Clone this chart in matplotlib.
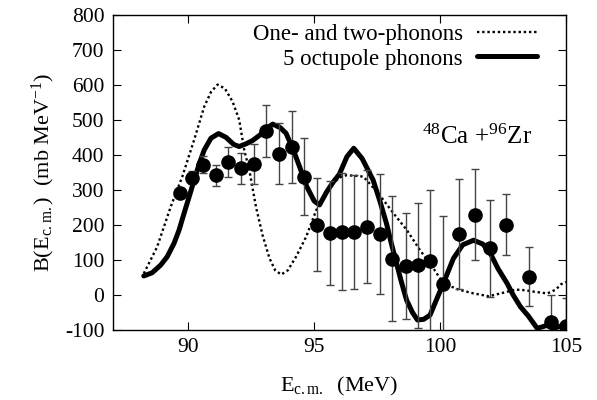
import numpy as np
import matplotlib
matplotlib.use('Agg')
import matplotlib.pyplot as plt

# ─── Data ────────────────────────────────────────────────────────────────────
E_exp = [89.66, 90.13, 90.59, 91.09, 91.58, 92.09, 92.59, 93.09, 93.61, 94.11,
         94.59, 95.11, 95.61, 96.10, 96.60, 97.10, 97.60, 98.10, 98.63, 99.11,
         99.60, 100.13, 100.75, 101.37, 102.00, 102.63, 103.52, 104.39, 105.00]
B_exp = [292, 335, 372, 342, 380, 362, 374, 469, 403, 422,
         338, 200, 176, 180, 180, 195, 174, 103, 82, 84,
         96, 30, 174, 229, 133, 201, 52, -78, -90]
B_err = [10, 18, 25, 30, 42, 44, 58, 75, 87, 103,
         110, 133, 149, 167, 163, 161, 172, 179, 151, 179,
         205, 196, 156, 130, 138, 87, 84, 78, 80]

# 5 octupole phonons (thick solid)
E_oct = [88.23, 88.56, 88.9, 89.16, 89.43, 89.63, 89.83, 90.03, 90.23, 90.43,
         90.63, 90.9, 91.2, 91.5, 91.8, 92.02, 92.3, 92.55, 92.9, 93.15,
         93.35, 93.65, 93.88, 94.15, 94.42, 94.7, 95.0, 95.21, 95.5, 95.75,
         96.0, 96.3, 96.57, 96.9, 97.1, 97.34, 97.6, 97.87, 98.07, 98.27,
         98.47, 98.67, 98.9, 99.1, 99.35, 99.6, 99.85, 100.13, 100.53, 100.9,
         101.33, 101.7, 102.0, 102.3, 102.66, 102.9, 103.19, 103.5, 103.86,
         104.26, 104.5, 104.9, 105.1]
B_oct = [54, 63, 85, 109, 147, 185, 233, 280, 328, 374,
         414, 448, 461, 450, 430, 424, 432, 441, 460, 478,
         488, 478, 462, 418, 366, 310, 268, 257, 295, 322,
         345, 395, 419, 390, 362, 328, 270, 204, 145, 90,
         35, -15, -50, -72, -70, -58, -15, 33, 104, 143,
         156, 145, 118, 75, 33, 0, -34, -60, -96,
         -87, -96, -87, -100]

# One- and two-phonons (dotted)
E_one = [88.23, 88.76, 89.3, 89.76, 90.23, 90.63, 90.9, 91.16, 91.45, 91.76,
         92.02, 92.22, 92.42, 92.69, 92.95, 93.22, 93.45, 93.69, 93.95, 94.28,
         94.68, 95.08, 95.61, 96.0, 96.28, 96.68, 96.94, 97.08, 97.6, 98.15,
         98.68, 99.2, 99.73, 100.13, 100.73, 101.33, 101.93, 102.4, 103.0, 103.4,
         103.73, 104.26, 104.6, 104.8, 105.0]
B_one = [61, 137, 252, 338, 443, 538, 580, 601, 590, 552,
         500, 414, 357, 250, 170, 105, 70, 58, 70, 109,
         166, 242, 309, 335, 342, 340, 338, 328, 285, 233,
         185, 128, 76, 33, 15, 4, -4, 4, 15, 13,
         9, 4, 15, 30, 37]

plt.rcParams['font.family'] = ['Liberation Serif', 'DejaVu Serif']
plt.rcParams['mathtext.fontset'] = 'custom'
plt.rcParams['mathtext.rm'] = 'Liberation Serif'
plt.rcParams['mathtext.it'] = 'Liberation Serif:italic'
plt.rcParams['axes.unicode_minus'] = False
plt.rcParams['font.size'] = 15.5

fig = plt.figure(figsize=(5.97, 4.0), dpi=100)
ax = fig.add_axes([0.189, 0.1755, 0.759, 0.787])

ax.plot(E_one, B_one, color='black', linestyle=(0, (1, 1.2)), linewidth=1.7,
        label='One- and two-phonons')
ax.plot(E_oct, B_oct, color='black', linestyle='-', linewidth=3.6,
        solid_capstyle='round', solid_joinstyle='round', label='5 octupole phonons')
ax.errorbar(E_exp, B_exp, yerr=B_err, fmt='o', color='black', markersize=9.5,
            ecolor='#444444', elinewidth=1.0, capsize=3, capthick=1.0)

ax.text(101.45, 452, r'$^{48}$Ca +$^{96}$Zr', ha='center', va='center', fontsize=18)

ax.set_xlim(87, 105)
ax.set_ylim(-100, 800)
ax.set_xticks([90, 95, 100, 105])
ax.set_yticks(np.arange(-100, 801, 100))
ax.tick_params(direction='in', top=True, right=True, length=6, width=0.8,
               labelsize=15.5, pad=6)
for sp in ax.spines.values():
    sp.set_linewidth(1.0)

ax.set_xlabel(r'E$_{\mathrm{c.m.}}$  (MeV)', fontsize=16, labelpad=13)
ax.set_ylabel(r'B(E$_{\mathrm{c.m.}}$)  (mb MeV$^{-1}$)', fontsize=16, labelpad=6)

ax.legend(loc='upper right', bbox_to_anchor=(0.9, 0.94),
          bbox_transform=fig.transFigure, frameon=False, markerfirst=False,
          handlelength=2.65, borderpad=0, borderaxespad=0, labelspacing=0.15,
          handletextpad=0.6, fontsize=16.5)

fig.savefig('out.png', dpi=100)
